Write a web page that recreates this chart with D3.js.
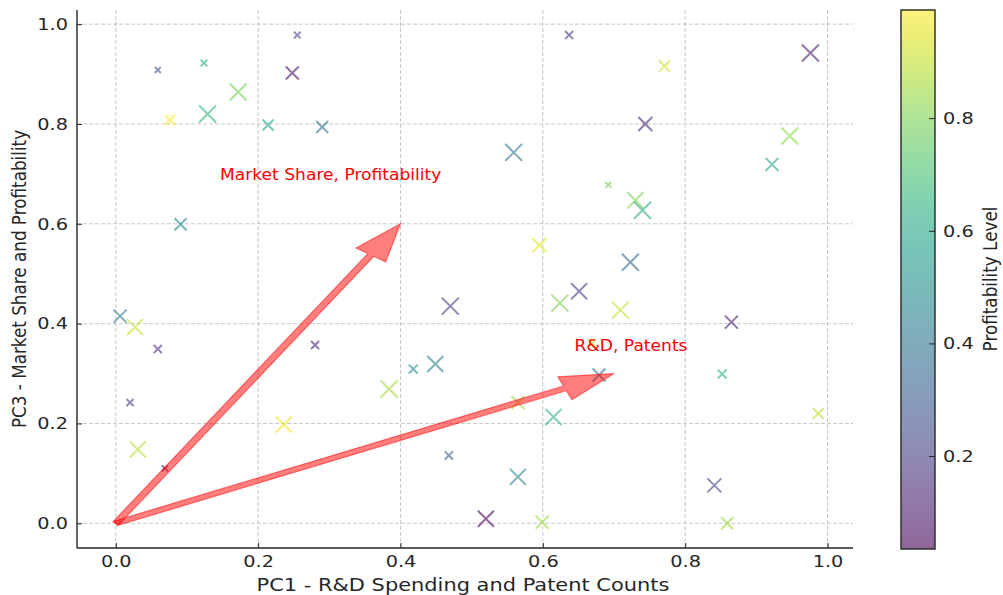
<!DOCTYPE html>
<html>
<head>
<meta charset="utf-8">
<script src="https://cdn.jsdelivr.net/npm/d3@7"></script>
<style>
  body { margin: 0; background: #fff; }
  svg { display: block; font-family: "DejaVu Sans", sans-serif; }
</style>
</head>
<body>
<svg width="1003" height="595"></svg>
<script>
// component scores of the 50 companies
const pc1 = [0.255, 0.059, 0.124, 0.248, 0.172, 0.129, 0.076, 0.214, 0.290, 0.091,
             0.637, 0.976, 0.771, 0.744, 0.947, 0.559, 0.922, 0.692, 0.730, 0.740,
             0.595, 0.723, 0.006, 0.027, 0.059, 0.020, 0.031, 0.069, 0.280, 0.236,
             0.384, 0.418, 0.449, 0.470, 0.468, 0.651, 0.624, 0.709, 0.865, 0.669,
             0.679, 0.852, 0.565, 0.615, 0.987, 0.565, 0.841, 0.520, 0.599, 0.859];
const pc3 = [0.978, 0.908, 0.922, 0.902, 0.864, 0.820, 0.808, 0.798, 0.794, 0.599,
             0.978, 0.942, 0.916, 0.800, 0.776, 0.743, 0.719, 0.678, 0.647, 0.627,
             0.557, 0.523, 0.415, 0.393, 0.349, 0.242, 0.148, 0.110, 0.357, 0.198,
             0.269, 0.309, 0.319, 0.435, 0.136, 0.465, 0.441, 0.427, 0.403, 0.361,
             0.297, 0.299, 0.242, 0.213, 0.220, 0.093, 0.076, 0.009, 0.002, 0.000];
const profit = [0.22, 0.27, 0.62, 0.08, 0.80, 0.66, 0.992, 0.60, 0.40, 0.48,
                0.18, 0.10, 0.92, 0.12, 0.82, 0.40, 0.58, 0.78, 0.80, 0.63,
                0.95, 0.35, 0.40, 0.90, 0.15, 0.22, 0.88, 0.05, 0.10, 0.97,
                0.86, 0.48, 0.45, 0.17, 0.30, 0.20, 0.80, 0.90, 0.10, 0.90,
                0.40, 0.62, 0.85, 0.65, 0.90, 0.45, 0.22, 0.035, 0.85, 0.85];
const weight = [0.12, 0.10, 0.12, 0.47, 0.80, 0.80, 0.28, 0.34, 0.40, 0.40,
                0.18, 0.80, 0.34, 0.54, 0.80, 0.80, 0.47, 0.10, 0.71, 0.80,
                0.54, 0.80, 0.47, 0.71, 0.18, 0.14, 0.71, 0.10, 0.18, 0.71,
                0.80, 0.22, 0.71, 0.80, 0.18, 0.71, 0.80, 0.80, 0.47, 0.18,
                0.47, 0.22, 0.47, 0.71, 0.34, 0.71, 0.54, 0.71, 0.47, 0.40];

// loading vectors
const loadNames = ["Market Share, Profitability", "R&D, Patents"];
const loadX = [0.4, 0.7];
const loadY = [0.6, 0.3];
const loadLabelX = [0.302, 0.724];
const loadLabelY = [0.697, 0.355];

const xTicks = [0, 0.2, 0.4, 0.6, 0.8, 1.0];
const yTicks = [0, 0.2, 0.4, 0.6, 0.8, 1.0];
const cbTicks = [0.2, 0.4, 0.6, 0.8];

const sx = 1.17; // the picture is a bit wider than tall, text gets stretched
const ink = "#262626";

const svg = d3.select("svg");
const mLeft = 77, mRight = 853, mTop = 10, mBottom = 548;

const x = d3.scaleLinear().domain([-0.0545, 1.0358]).range([mLeft, mRight]);
const y = d3.scaleLinear().domain([-0.0495, 1.0283]).range([mBottom, mTop]);
const color = d3.scaleSequential(d3.interpolateViridis).domain(d3.extent(profit));
const size = d3.scaleSqrt().domain([0, 1]).range([0, 9.5]);

// grid
const grid = svg.append("g")
  .attr("stroke", "#b0b0b0")
  .attr("stroke-opacity", 0.7)
  .attr("stroke-dasharray", "4,2");
grid.selectAll(".gx").data(xTicks).enter().append("line")
  .attr("x1", d => x(d)).attr("x2", d => x(d))
  .attr("y1", mTop).attr("y2", mBottom);
grid.selectAll(".gy").data(yTicks).enter().append("line")
  .attr("y1", d => y(d)).attr("y2", d => y(d))
  .attr("x1", mLeft).attr("x2", mRight);

// points
const pts = d3.range(pc1.length);
svg.append("g").selectAll("path")
  .data(pts)
  .enter().append("path")
  .attr("transform", i => `translate(${x(pc1[i])},${y(pc3[i])})`)
  .attr("d", i => {
    const r = size(weight[i]);
    return `M${-r},${-r}L${r},${r}M${-r},${r}L${r},${-r}`;
  })
  .attr("fill", "none")
  .attr("stroke", i => color(profit[i]))
  .attr("stroke-opacity", 0.6)
  .attr("stroke-width", 2);

// arrows, built like matplotlib's FancyArrow in data units
const shaftW = 0.01, headW = 0.05, headL = 0.075;
function arrowPts(dx, dy) {
  const L = Math.hypot(dx, dy), ux = dx / L, uy = dy / L, vx = -uy, vy = ux;
  const b = L - headL;
  const p = [
    [shaftW / 2, 0], [shaftW / 2, b], [headW / 2, b], [0, L],
    [-headW / 2, b], [-shaftW / 2, b], [-shaftW / 2, 0]
  ];
  return p.map(([s, t]) => [x(t * ux + s * vx), y(t * uy + s * vy)]);
}
svg.append("g").selectAll("polygon")
  .data(loadNames)
  .enter().append("polygon")
  .attr("points", (d, i) => arrowPts(loadX[i], loadY[i]).join(" "))
  .attr("fill", "red")
  .attr("fill-opacity", 0.5)
  .attr("stroke", "red")
  .attr("stroke-opacity", 0.5)
  .attr("stroke-width", 1.2)
  .attr("stroke-linejoin", "miter");

svg.append("g").selectAll("text")
  .data(loadNames)
  .enter().append("text")
  .attr("transform", (d, i) => `translate(${x(loadLabelX[i])},${y(loadLabelY[i])}) scale(1.14,1)`)
  .attr("text-anchor", "middle")
  .attr("dy", "0.32em")
  .attr("font-size", 15)
  .attr("fill", "red")
  .text(d => d);

// axes
const xAxis = svg.append("g")
  .attr("transform", `translate(0,${mBottom})`)
  .call(d3.axisBottom(x).tickValues(xTicks).tickFormat(d3.format(".1f"))
    .tickSizeInner(-5).tickSizeOuter(0).tickPadding(7));
const yAxis = svg.append("g")
  .attr("transform", `translate(${mLeft},0)`)
  .call(d3.axisLeft(y).tickValues(yTicks).tickFormat(d3.format(".1f"))
    .tickSizeInner(-5).tickSizeOuter(0).tickPadding(9));

[xAxis, yAxis].forEach(a => {
  a.select(".domain").attr("stroke", ink).attr("stroke-width", 1.4);
  a.selectAll(".tick line").attr("stroke", ink).attr("stroke-width", 1);
  a.selectAll(".tick text")
    .attr("font-family", "DejaVu Sans")
    .attr("font-size", 16.5)
    .attr("fill", ink);
});
xAxis.select(".domain").attr("d", `M${mLeft},0H${mRight}`);
yAxis.select(".domain").attr("d", `M0,${mTop}V${mBottom}`);
xAxis.selectAll(".tick text").attr("transform", `scale(${sx},1)`);
yAxis.selectAll(".tick text").attr("x", -9 / sx).attr("transform", `scale(${sx},1)`);

svg.append("text")
  .attr("transform", `translate(${(mLeft + mRight) / 2 - 2},591) scale(1.19,1)`)
  .attr("text-anchor", "middle")
  .attr("font-size", 17.6)
  .attr("fill", ink)
  .text("PC1 - R&D Spending and Patent Counts");

svg.append("text")
  .attr("transform", `translate(26,${(mTop + mBottom) / 2}) scale(${sx},1) rotate(-90)`)
  .attr("text-anchor", "middle")
  .attr("font-size", 16.8)
  .attr("fill", ink)
  .text("PC3 - Market Share and Profitability");

// colour bar
const cbX = 901, cbW = 34;
const cy = d3.scaleLinear().domain(color.domain()).range([mBottom + 1, mTop]);
const grad = svg.append("defs").append("linearGradient")
  .attr("id", "cb").attr("x1", 0).attr("x2", 0).attr("y1", 1).attr("y2", 0);
grad.selectAll("stop").data(d3.range(0, 1.0001, 0.05))
  .enter().append("stop")
  .attr("offset", d => d)
  .attr("stop-color", d => d3.interpolateViridis(d))
  .attr("stop-opacity", 0.6);
svg.append("rect")
  .attr("x", cbX).attr("y", mTop).attr("width", cbW).attr("height", mBottom + 1 - mTop)
  .attr("fill", "url(#cb)");

const cbAxis = svg.append("g")
  .attr("transform", `translate(${cbX + cbW},0)`)
  .call(d3.axisRight(cy).tickValues(cbTicks).tickFormat(d3.format(".1f"))
    .tickSizeInner(-6).tickSizeOuter(0).tickPadding(8));
cbAxis.select(".domain").remove();
cbAxis.selectAll(".tick line").attr("stroke", ink).attr("stroke-width", 1);
cbAxis.selectAll(".tick text")
  .attr("font-family", "DejaVu Sans")
  .attr("font-size", 16.5)
  .attr("fill", ink)
  .attr("x", 8 / sx)
  .attr("transform", `scale(${sx},1)`);

svg.append("rect")
  .attr("x", cbX).attr("y", mTop).attr("width", cbW).attr("height", mBottom + 1 - mTop)
  .attr("fill", "none").attr("stroke", ink).attr("stroke-width", 1.4);

svg.append("text")
  .attr("transform", `translate(997,${(mTop + mBottom) / 2}) scale(${sx},1) rotate(-90)`)
  .attr("text-anchor", "middle")
  .attr("font-size", 16.8)
  .attr("fill", ink)
  .text("Profitability Level");
</script>
</body>
</html>
